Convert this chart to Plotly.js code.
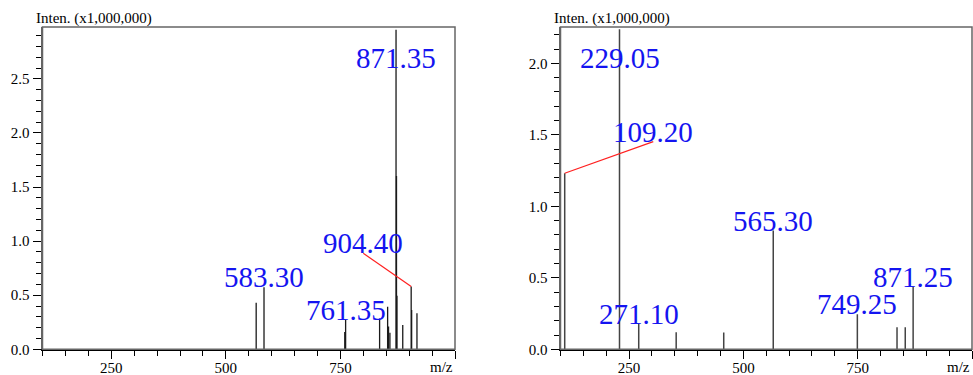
<!DOCTYPE html>
<html>
<head>
<meta charset="utf-8">
<script src="https://cdn.plot.ly/plotly-3.0.1.min.js"></script>
<style>html,body{margin:0;padding:0;background:#fff;}#chart{width:973px;height:375px;}</style>
</head>
<body>
<div id="chart"></div>
<script>
// Left spectrum (m/z, intensity x1,000,000)
const leftMz  = [566.2, 583.30, 759.5, 761.35, 835.5, 853.0, 855.0, 858.0, 871.35, 872.35, 873.35, 886.0, 904.40, 905.4, 917.0];
const leftInt = [0.43, 0.574, 0.16, 0.27, 0.285, 0.394, 0.21, 0.154, 2.955, 1.603, 0.496, 0.225, 0.58, 0.364, 0.333];
// Right spectrum
const rightMz  = [109.20, 229.05, 271.10, 353.0, 457.0, 565.30, 749.25, 836.0, 854.0, 871.25];
const rightInt = [1.231, 2.238, 0.177, 0.119, 0.117, 0.83, 0.245, 0.154, 0.154, 0.438];
// Labelled peaks
const leftLabels  = ["583.30", "761.35", "871.35", "904.40"];
const rightLabels = ["229.05", "109.20", "565.30", "271.10", "749.25", "871.25"];
const xTickVals = [250, 500, 750, 1000];
const xTickText = ["250", "500", "750", ""];

function sticks(mz, inten) {
  const x = [], y = [];
  mz.forEach((m, i) => { x.push(m, m, null); y.push(0, inten[i], null); });
  return {x, y};
}
const L = sticks(leftMz, leftInt), R = sticks(rightMz, rightInt);
const FONT = "Times New Roman, Liberation Serif, DejaVu Serif, serif";

const traces = [
  {x: L.x, y: L.y, xaxis: 'x', yaxis: 'y', mode: 'lines', line: {color: '#1a1a1a', width: 1.3}, hoverinfo: 'skip', connectgaps: false},
  {x: R.x, y: R.y, xaxis: 'x2', yaxis: 'y2', mode: 'lines', line: {color: '#444', width: 1.5}, hoverinfo: 'skip', connectgaps: false}
];

function peakOf(mzArr, intArr, lab) {
  const i = mzArr.indexOf(parseFloat(lab));
  return {m: mzArr[i], h: intArr[i]};
}
// label placement overrides (layout positions in data units)
const place = {
  "871.35": {m: null, y: 2.60},
  "904.40": {m: 799.8, y: 0.888, leader: true},
  "229.05": {m: null, y: 1.965},
  "109.20": {m: 302.9, y: 1.452, leader: true}
};
const annotations = [], shapes = [];
function addLabels(mzArr, intArr, labels, xr, yr) {
  labels.forEach(lab => {
    const p = peakOf(mzArr, intArr, lab);
    const o = place[lab] || {};
    const ax = (o.m != null) ? o.m : p.m;
    const ay = (o.y != null) ? o.y : p.h;
    annotations.push({xref: xr, yref: yr, x: ax, y: ay, text: lab, showarrow: false,
      xanchor: 'center', yanchor: 'bottom', yshift: -8,
      font: {family: FONT, size: 29, color: '#1414f0'}});
    if (o.leader) {
      shapes.push({type: 'line', xref: xr, yref: yr, x0: ax, y0: ay, x1: p.m, y1: p.h,
        line: {color: '#ff2020', width: 1.2}});
    }
  });
}
addLabels(leftMz, leftInt, leftLabels, 'x', 'y');
addLabels(rightMz, rightInt, rightLabels, 'x2', 'y2');

// frames
[['x', 'y'], ['x2', 'y2']].forEach(([xr, yr]) => {
  shapes.push({type: 'rect', xref: xr + ' domain', yref: yr + ' domain', x0: 0, x1: 1, y0: 0, y1: 1,
    line: {color: '#666', width: 1.5}, fillcolor: 'rgba(0,0,0,0)', layer: 'above'});
});

// axis titles
const titleFont = {family: FONT, size: 15, color: '#000'};
annotations.push({xref: 'paper', yref: 'paper', x: 34/973, y: 1 - 27/375, xanchor: 'left', yanchor: 'bottom', yshift: -2,
  text: 'Inten. (x1,000,000)', showarrow: false, font: titleFont});
annotations.push({xref: 'paper', yref: 'paper', x: 552/973, y: 1 - 27/375, xanchor: 'left', yanchor: 'bottom', yshift: -2,
  text: 'Inten. (x1,000,000)', showarrow: false, font: titleFont});
annotations.push({xref: 'paper', yref: 'paper', x: 455/973, y: 0, xanchor: 'right', yanchor: 'bottom', yshift: -2,
  text: 'm/z', showarrow: false, font: titleFont});
annotations.push({xref: 'paper', yref: 'paper', x: 972/973, y: 0, xanchor: 'right', yanchor: 'bottom', yshift: -2,
  text: 'm/z', showarrow: false, font: titleFont});

const tickFont = {family: FONT, size: 15, color: '#000'};
function xAxis(domain, anchor) {
  return {domain, anchor, range: [100, 1000], showgrid: false, zeroline: false,
    showline: true, linecolor: '#000', linewidth: 2,
    tickmode: 'array', tickvals: xTickVals, ticktext: xTickText,
    ticks: 'outside', ticklen: 8, tickwidth: 1, tickcolor: '#000', tickfont: tickFont,
    ticklabelstandoff: -4,
    minor: {dtick: 50, tick0: 0, ticks: 'outside', ticklen: 5, tickwidth: 1, tickcolor: '#000'},
    fixedrange: true};
}
function yAxis(domain, anchor, top) {
  return {domain, anchor, range: [0, top], showgrid: false, zeroline: false,
    showline: true, linecolor: '#666', linewidth: 2,
    tickmode: 'linear', tick0: 0, dtick: 0.5, tickformat: '.1f',
    ticks: 'outside', ticklen: 8, tickwidth: 1, tickcolor: '#000', tickfont: tickFont,
    minor: {dtick: 0.1, tick0: 0, ticks: 'outside', ticklen: 4.5, tickwidth: 1, tickcolor: '#000'},
    fixedrange: true};
}
const yDom = [(375 - 349.3) / 375, (375 - 27) / 375];
const layout = {
  width: 973, height: 375, margin: {l: 0, r: 0, t: 0, b: 0},
  paper_bgcolor: '#fff', plot_bgcolor: '#fff', showlegend: false,
  font: {family: FONT},
  xaxis: xAxis([42.5 / 973, 455 / 973], 'y'),
  yaxis: yAxis(yDom, 'x', 2.98),
  xaxis2: xAxis([560.5 / 973, 972 / 973], 'y2'),
  yaxis2: yAxis(yDom, 'x2', 2.254),
  annotations, shapes
};
Plotly.newPlot('chart', traces, layout, {displayModeBar: false, staticPlot: true});
</script>
</body>
</html>
